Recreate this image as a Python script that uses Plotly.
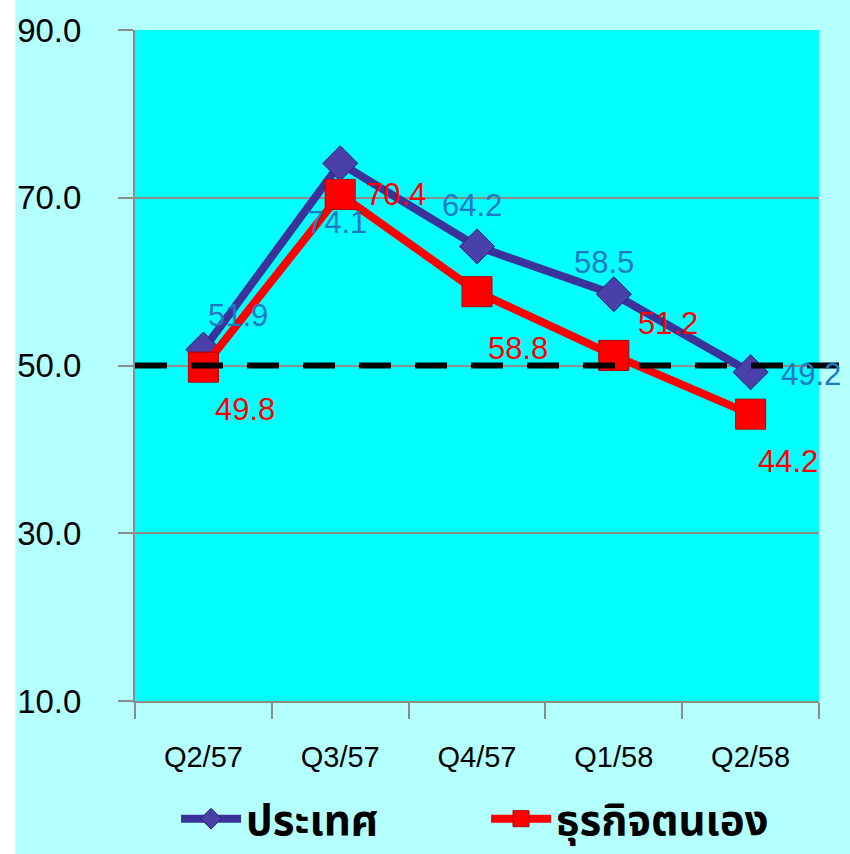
import plotly.graph_objects as go

# Data
quarters = ["Q2/57", "Q3/57", "Q4/57", "Q1/58", "Q2/58"]
country = [51.9, 74.1, 64.2, 58.5, 49.2]
own_business = [49.8, 70.4, 58.8, 51.2, 44.2]
y_ticks = [10, 30, 50, 70, 90]
threshold = 50

# Label offsets (pixels) so the numbers sit where the original put them
country_shift = [(35, 34), (-3, -59), (-5, 41), (-10, 32), (60, -2)]
own_shift = [(42, -42), (56, 0), (41, -57), (54, 32), (37, -47)]

BLUE_LINE = "#3b3399"
BLUE_MARK = "#4a40aa"
BLUE_TEXT = "#1f78c1"
RED = "#ff0000"

fig = go.Figure()

fig.add_trace(go.Scatter(
    x=quarters,
    y=country,
    name="<b>ประเทศ</b>",
    mode="lines+markers",
    line=dict(color=BLUE_LINE, width=8),
    marker=dict(symbol="diamond", size=27, color=BLUE_MARK,
                line=dict(color="#2a2378", width=1)),
))

fig.add_trace(go.Scatter(
    x=quarters,
    y=own_business,
    name="<b>ธุรกิจตนเอง</b>",
    mode="lines+markers",
    line=dict(color=RED, width=8),
    marker=dict(symbol="square", size=30, color=RED,
                line=dict(color="#b00000", width=1)),
))

# Data labels
for q, v, (dx, dy) in zip(quarters, country, country_shift):
    fig.add_annotation(x=q, y=v, text=f"{v:.1f}", showarrow=False,
                       xshift=dx, yshift=dy,
                       font=dict(size=31, color=BLUE_TEXT, family="Arial, Liberation Sans"))
for q, v, (dx, dy) in zip(quarters, own_business, own_shift):
    fig.add_annotation(x=q, y=v, text=f"{v:.1f}", showarrow=False,
                       xshift=dx, yshift=dy,
                       font=dict(size=31, color=RED, family="Arial, Liberation Sans"))

# Dashed reference line at 50, runs a bit past the plot edge
fig.add_shape(type="line", xref="paper", yref="y",
              x0=0, x1=1.03, y0=threshold, y1=threshold,
              line=dict(color="black", width=6, dash="32px,24px"))

# White strip at the far left of the picture
fig.add_shape(type="rect", xref="paper", yref="paper",
              x0=-0.2, x1=-0.175, y0=-0.3, y1=1.1,
              fillcolor="white", line=dict(width=0), layer="below")

fig.update_layout(
    width=850,
    height=854,
    paper_bgcolor="#b4ffff",
    plot_bgcolor="#00ffff",
    margin=dict(l=135, r=31, t=30, b=153, autoexpand=False),
    showlegend=True,
    legend=dict(
        orientation="h",
        x=0.06, xanchor="left",
        y=-0.125, yanchor="top",
        font=dict(size=42, color="black", family="Tahoma, Noto Sans Thai, sans-serif"),
        bgcolor="rgba(0,0,0,0)",
        itemwidth=60,
        entrywidthmode="pixels",
        entrywidth=235,
    ),
    xaxis=dict(
        type="category",
        range=[-0.5, 4.5],
        tickson="boundaries",
        ticks="outside",
        ticklen=16,
        tickcolor="#8c8c8c",
        tickwidth=2,
        showline=True,
        linecolor="#8c8c8c",
        linewidth=2,
        showgrid=False,
        ticklabelstandoff=29,
        tickfont=dict(size=29, color="black", family="Liberation Sans Narrow, Arial Narrow, Arial"),
    ),
    yaxis=dict(
        range=[10, 90],
        tickvals=y_ticks,
        tickformat=".1f",
        ticks="outside",
        ticklen=15,
        tickcolor="#8c8c8c",
        tickwidth=2,
        showline=True,
        linecolor="#8c8c8c",
        linewidth=2,
        showgrid=True,
        gridcolor="#8c8c8c",
        gridwidth=2,
        zeroline=False,
        ticklabelstandoff=30,
        tickfont=dict(size=33, color="black", family="Arial, Liberation Sans"),
    ),
)

fig.write_html("out.html", config={"displayModeBar": False},
               post_script="document.body.style.margin='0';")
